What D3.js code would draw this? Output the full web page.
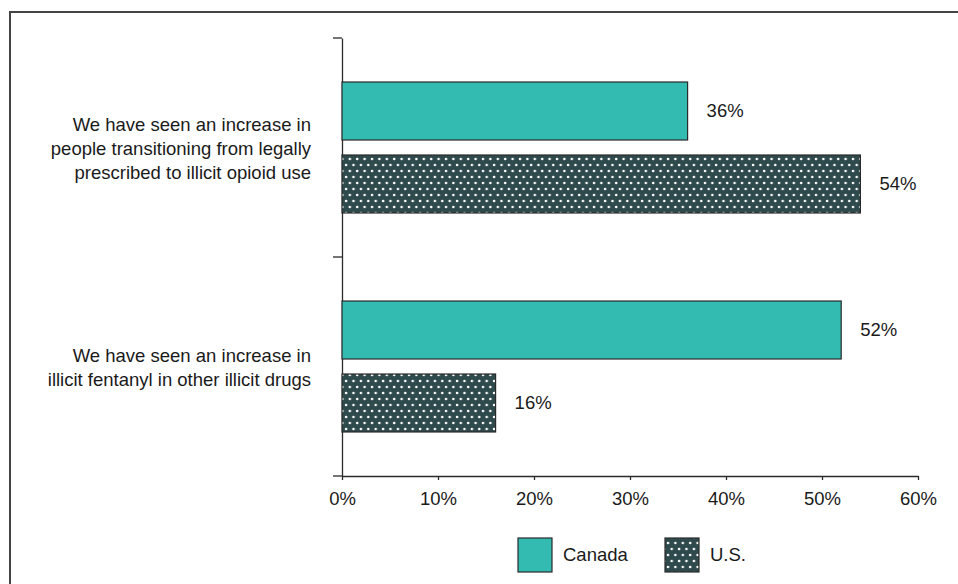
<!DOCTYPE html>
<html>
<head>
<meta charset="utf-8">
<script src="https://cdn.jsdelivr.net/npm/d3@7"></script>
<style>
  html, body { margin: 0; padding: 0; background: #fff; }
  svg text { font-family: "Liberation Sans", Arial, sans-serif; fill: #1a1a1a; }
</style>
</head>
<body>
<div id="chart"></div>
<script>
const categories = [
  ["We have seen an increase in", "people transitioning from legally", "prescribed to illicit opioid use"],
  ["We have seen an increase in", "illicit fentanyl in other illicit drugs"]
];
const series = ["Canada", "U.S."];
const canadaValues = [0.36, 0.52];
const usValues = [0.54, 0.16];
const xTicks = [0, 0.1, 0.2, 0.3, 0.4, 0.5, 0.6];

const W = 958, H = 584;
const fontSize = 18.5;
const tealColor = "#33bab1";
const darkColor = "#2f4a4c";
const lineColor = "#2b2b2b";

const svg = d3.select("#chart").append("svg")
  .attr("width", W)
  .attr("height", H);

// dotted pattern for U.S.
const defs = svg.append("defs");
const pat = defs.append("pattern")
  .attr("id", "dots")
  .attr("patternUnits", "userSpaceOnUse")
  .attr("width", 7.4)
  .attr("height", 12);
pat.append("rect").attr("width", 7.4).attr("height", 12).attr("fill", darkColor);
pat.append("circle").attr("cx", 2).attr("cy", 3).attr("r", 1.3).attr("fill", "#fff");
pat.append("circle").attr("cx", 5.7).attr("cy", 9).attr("r", 1.3).attr("fill", "#fff");

const fills = { "Canada": tealColor, "U.S.": "url(#dots)" };

// frame (only top and left edge show in the picture)
svg.append("path")
  .attr("d", `M10,${H} L10,12 L${W},12`)
  .attr("fill", "none")
  .attr("stroke", "#444")
  .attr("stroke-width", 2);

const x = d3.scaleLinear().domain([0, 0.6]).range([342, 918]);
const y = d3.scaleBand().domain(d3.range(categories.length)).range([38, 476]);
const inner = d3.scaleBand().domain(series).range([0, y.bandwidth()])
  .paddingInner(0.2055).paddingOuter(0.603);

// x axis
const xAxis = svg.append("g")
  .attr("transform", `translate(0,476)`)
  .call(d3.axisBottom(x).tickValues(xTicks).tickFormat(d3.format(".0%"))
    .tickSize(4).tickSizeOuter(0));
xAxis.select(".domain").attr("stroke", lineColor).attr("stroke-width", 1.3);
xAxis.selectAll(".tick line").attr("stroke", lineColor).attr("stroke-width", 1.3);
xAxis.selectAll(".tick text")
  .attr("y", 16)
  .attr("font-size", fontSize)
  .attr("font-family", null);

// y axis line with ticks at band edges
const yAxis = svg.append("g").attr("transform", "translate(342,0)")
  .call(d3.axisLeft(y).tickSize(0).tickSizeOuter(0).tickFormat(""));
yAxis.select(".domain").attr("stroke", lineColor).attr("stroke-width", 1.3);
const edges = d3.range(categories.length + 1).map(i => y.range()[0] + i * y.step());
yAxis.selectAll(".edge").data(edges).join("line")
  .attr("x1", -9).attr("x2", 0)
  .attr("y1", d => d).attr("y2", d => d)
  .attr("stroke", lineColor).attr("stroke-width", 1.3);

// category labels
const lineH = 24;
categories.forEach((lines, i) => {
  const cy = y(i) + y.bandwidth() / 2 + 1.5;
  const t = svg.append("text")
    .attr("text-anchor", "end")
    .attr("font-size", fontSize);
  lines.forEach((ln, j) => {
    t.append("tspan")
      .attr("x", 311)
      .attr("y", cy + (j - (lines.length - 1) / 2) * lineH)
      .attr("dy", "0.35em")
      .text(ln);
  });
});

// bars
const rows = [];
categories.forEach((c, i) => {
  rows.push({ cat: i, s: "Canada", v: canadaValues[i] });
  rows.push({ cat: i, s: "U.S.", v: usValues[i] });
});

svg.append("g").selectAll("rect").data(rows).join("rect")
  .attr("x", x(0))
  .attr("y", d => y(d.cat) + inner(d.s))
  .attr("width", d => x(d.v) - x(0))
  .attr("height", inner.bandwidth())
  .attr("fill", d => fills[d.s])
  .attr("stroke", "#2a2a2a")
  .attr("stroke-width", 1.2);

svg.append("g").selectAll("text").data(rows).join("text")
  .attr("x", d => x(d.v) + 19)
  .attr("y", d => y(d.cat) + inner(d.s) + inner.bandwidth() / 2)
  .attr("dy", "0.35em")
  .attr("font-size", fontSize)
  .text(d => d3.format(".0%")(d.v));

// legend
const legendX = [518, 665];
const legend = svg.append("g");
series.forEach((s, i) => {
  legend.append("rect")
    .attr("x", legendX[i]).attr("y", 538)
    .attr("width", 34).attr("height", 34)
    .attr("fill", fills[s])
    .attr("stroke", "#2a2a2a")
    .attr("stroke-width", 1.2);
  legend.append("text")
    .attr("x", legendX[i] + 45)
    .attr("y", 555)
    .attr("dy", "0.35em")
    .attr("font-size", fontSize)
    .text(s);
});
</script>
</body>
</html>
